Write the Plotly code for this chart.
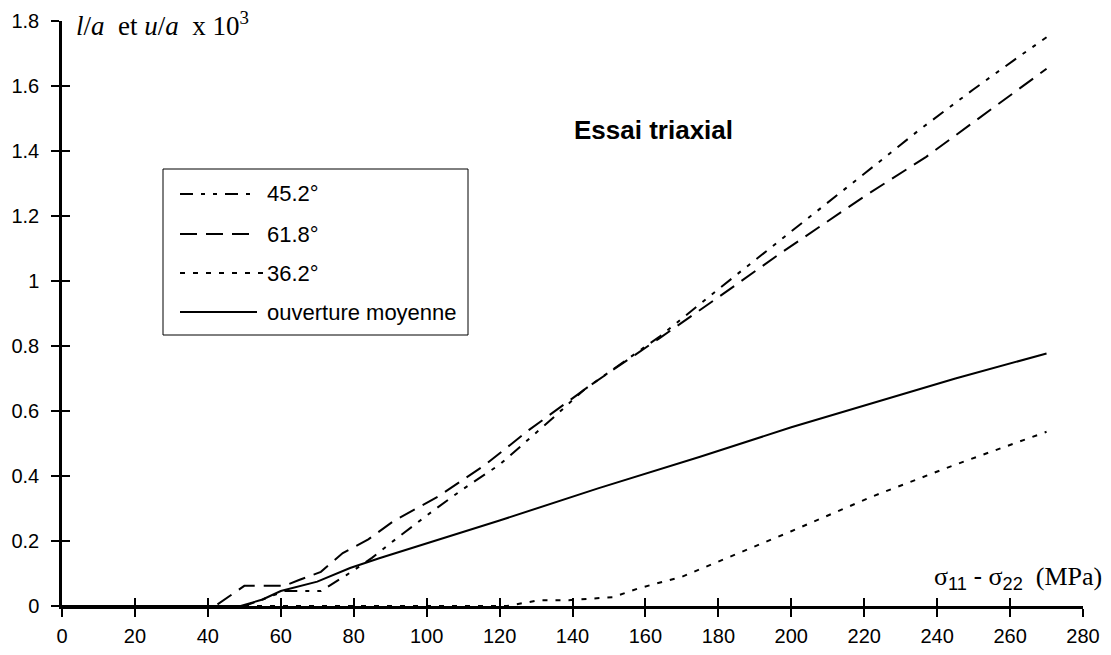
import plotly.graph_objects as go

# ---- data ----
x_452 = [0, 50, 55, 61, 71, 78, 85, 92, 102, 110, 120, 134, 143, 150, 164, 180, 198, 220, 235, 250, 261, 270]
y_452 = [0, 0, 0.02, 0.046, 0.046, 0.095, 0.148, 0.21, 0.295, 0.36, 0.435, 0.572, 0.664, 0.72, 0.83, 0.975, 1.136, 1.33, 1.464, 1.59, 1.679, 1.75]

x_618 = [0, 42, 50, 61, 65, 71, 77, 84, 91, 103, 116, 128, 145, 164, 180, 197, 220, 237, 255, 270]
y_618 = [0, 0, 0.062, 0.062, 0.08, 0.105, 0.163, 0.205, 0.262, 0.336, 0.434, 0.541, 0.68, 0.825, 0.95, 1.085, 1.26, 1.382, 1.53, 1.653]

x_362 = [0, 122, 131, 139, 151, 158, 170, 180, 200, 222, 245, 270]
y_362 = [0, 0, 0.018, 0.018, 0.027, 0.054, 0.09, 0.136, 0.23, 0.336, 0.435, 0.536]

x_moy = [0, 49, 55, 60, 70, 79, 87, 100, 120, 147, 175, 200, 222, 245, 270]
y_moy = [0, 0, 0.02, 0.046, 0.075, 0.117, 0.147, 0.193, 0.263, 0.362, 0.459, 0.55, 0.624, 0.7, 0.777]

series_names = ["45.2°", "61.8°", "36.2°", "ouverture moyenne"]

x_tickvals = [0, 20, 40, 60, 80, 100, 120, 140, 160, 180, 200, 220, 240, 260, 280]
x_ticktext = ["0", "20", "40", "60", "80", "100", "120", "140", "160", "180", "200", "220", "240", "260", "280"]
y_tickvals = [0, 0.2, 0.4, 0.6, 0.8, 1.0, 1.2, 1.4, 1.6, 1.8]
y_ticktext = ["0", "0.2", "0.4", "0.6", "0.8", "1", "1.2", "1.4", "1.6", "1.8"]

# ---- styles ----
DASH_DD = "13px,8px,4px,8px,4px,8px"
DASH_D = "17px,9px"
DASH_DOT = "5px,8px"
dashes = [DASH_DD, DASH_D, DASH_DOT, "solid"]
LW = 2
SANS = "Arial, Liberation Sans, sans-serif"
SERIF = "Times New Roman, Liberation Serif, serif"
TICK_SIZE = 20
LEG_SIZE = 22

fig = go.Figure()
for xs, ys, name, d in zip([x_452, x_618, x_362, x_moy], [y_452, y_618, y_362, y_moy], series_names, dashes):
    fig.add_trace(go.Scatter(x=xs, y=ys, mode="lines", name=name,
                             line=dict(color="black", width=LW, dash=d),
                             showlegend=False))

# dummy trace for the overlay axes (inside half of the crossing ticks)
fig.add_trace(go.Scatter(x=[None], y=[None], xaxis="x2", yaxis="y2",
                         showlegend=False, hoverinfo="skip"))

axis_common = dict(showgrid=False, zeroline=False, color="black", automargin=False)

fig.update_layout(
    width=1111, height=655,
    margin=dict(l=62, r=28, t=21, b=49),
    paper_bgcolor="white", plot_bgcolor="white",
    font=dict(family=SANS, color="black", size=TICK_SIZE),
    xaxis=dict(range=[0, 280], tickvals=x_tickvals, ticktext=x_ticktext,
               ticks="outside", ticklen=8, tickwidth=2, tickcolor="black",
               showline=True, linewidth=2.5, linecolor="black",
               tickfont=dict(size=TICK_SIZE, family=SANS), ticklabelstandoff=2,
               **axis_common),
    yaxis=dict(range=[0, 1.8], tickvals=y_tickvals, ticktext=y_ticktext,
               ticks="outside", ticklen=8, tickwidth=2, tickcolor="black",
               showline=True, linewidth=2.5, linecolor="black",
               tickfont=dict(size=TICK_SIZE, family=SANS), ticklabelstandoff=8,
               **axis_common),
    xaxis2=dict(range=[0, 280], tickvals=x_tickvals, overlaying="x", anchor="y2", side="bottom",
                ticks="inside", ticklen=8, tickwidth=2, tickcolor="black",
                showticklabels=False, showline=False, **axis_common),
    yaxis2=dict(range=[0, 1.8], tickvals=y_tickvals, overlaying="y", anchor="x2", side="left",
                ticks="inside", ticklen=8, tickwidth=2, tickcolor="black",
                showticklabels=False, showline=False, **axis_common),
)

# ---- pixel -> paper helpers (plot area 62..1083 x 21..606) ----
def px(v):
    return (v - 62) / (1083 - 62)

def py(v):
    return (606 - v) / (606 - 21)

# custom legend box
fig.add_shape(type="rect", xref="paper", yref="paper",
              x0=px(163), x1=px(468), y0=py(335), y1=py(169),
              line=dict(color="black", width=1), fillcolor="white", layer="above")
rows = [194, 234, 273, 312]
for r, name, d in zip(rows, series_names, dashes):
    x_end = 265 if d == DASH_DOT else 257
    fig.add_shape(type="line", xref="paper", yref="paper",
                  x0=px(180), x1=px(x_end), y0=py(r), y1=py(r),
                  line=dict(color="black", width=LW, dash=d), layer="above")
    fig.add_annotation(xref="paper", yref="paper", x=px(265), y=py(r),
                       xanchor="left", yanchor="middle", showarrow=False,
                       text=name, font=dict(family=SANS, size=LEG_SIZE, color="black"))

# chart title
fig.add_annotation(xref="paper", yref="paper", x=px(572), y=py(130),
                   xanchor="left", yanchor="middle", showarrow=False,
                   text="<b>Essai triaxial</b>", font=dict(family=SANS, size=26, color="black"))

# y-axis label
nb = "\u00a0"
fig.add_annotation(xref="paper", yref="paper", x=px(74), y=py(24),
                   xanchor="left", yanchor="middle", showarrow=False,
                   text=f"<i>l</i>/<i>a</i>{nb}{nb}et{nb}<i>u</i>/<i>a</i>{nb}{nb}x{nb}10<sup>3</sup>",
                   font=dict(family=SERIF, size=27, color="black"))

# x-axis label
fig.add_annotation(xref="paper", yref="paper", x=px(1104), y=py(577),
                   xanchor="right", yanchor="middle", showarrow=False,
                   text=(f"σ<sub><span style='font-family:Arial'>11</span></sub>{nb}"
                         f"<span style='font-family:Arial'>-</span>{nb}"
                         f"σ<sub><span style='font-family:Arial'>22</span></sub>{nb}{nb}(MPa)"),
                   font=dict(family=SERIF, size=26, color="black"))

fig.write_html("out.html", config={"displayModeBar": False},
               post_script="document.body.style.margin='0';")
